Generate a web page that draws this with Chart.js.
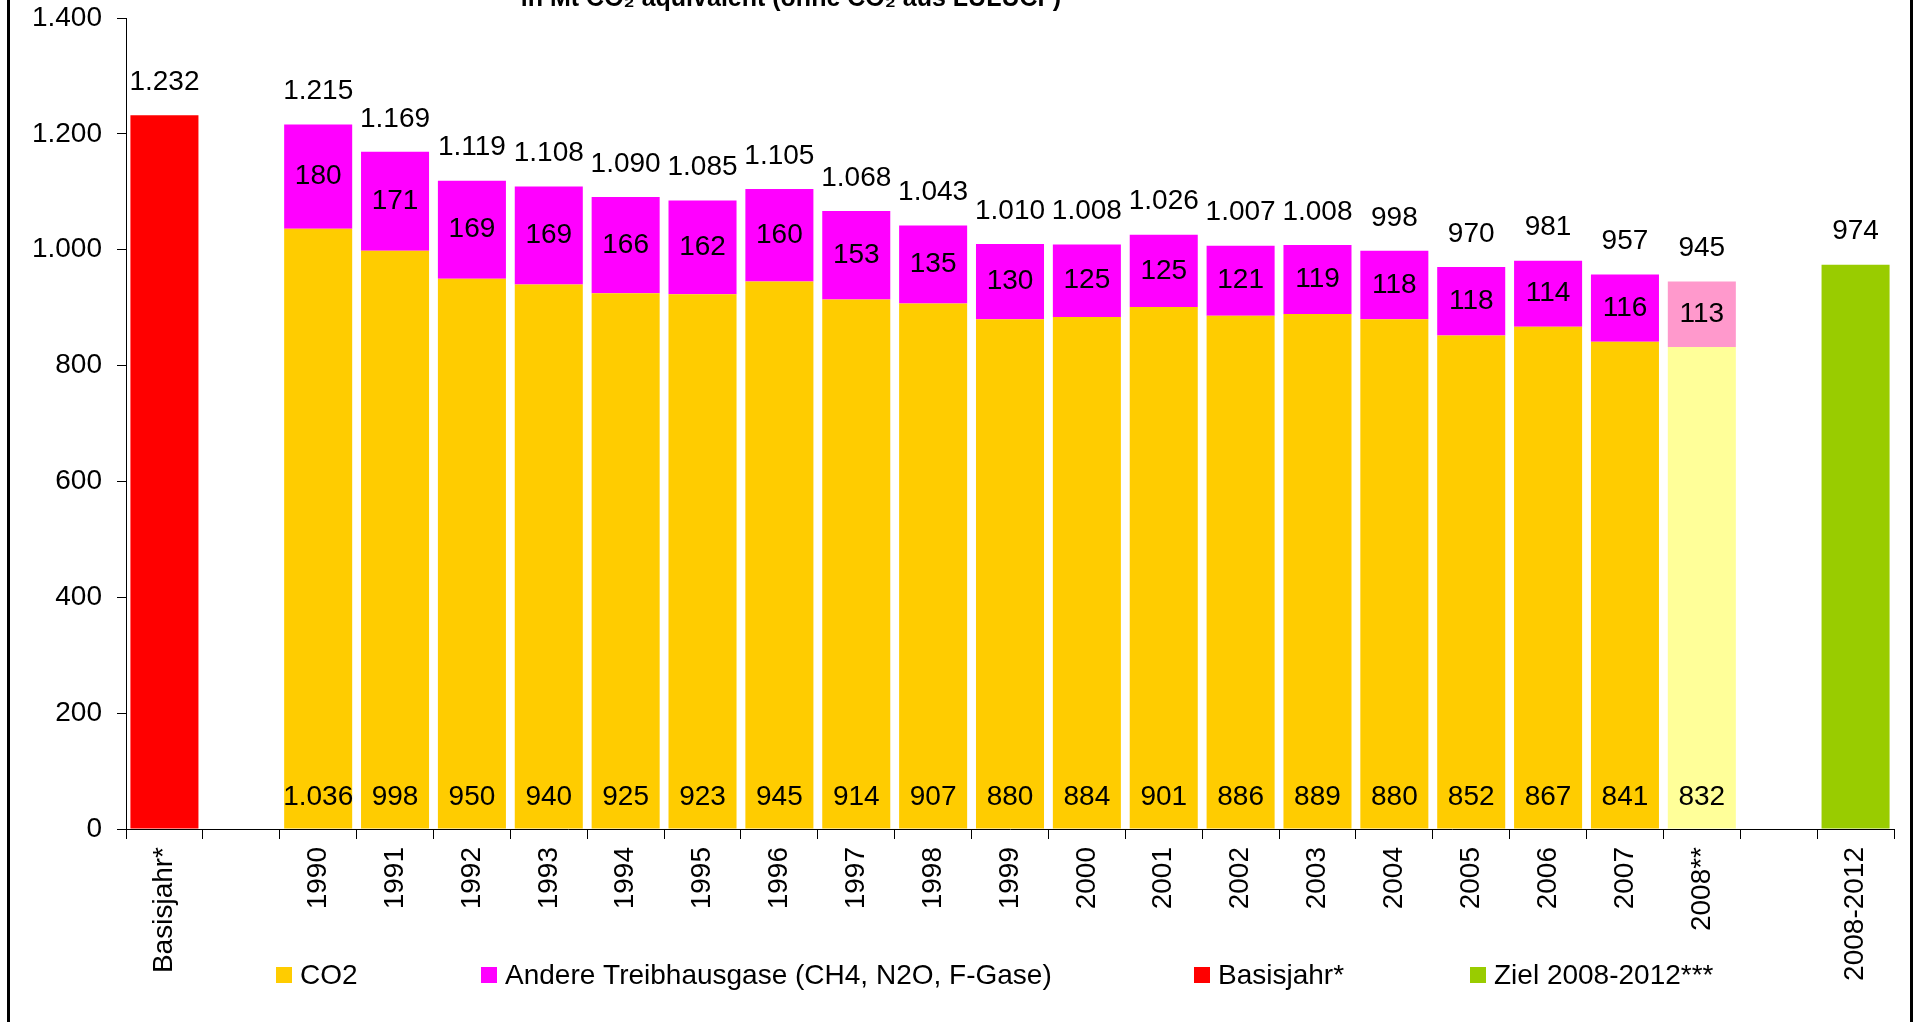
<!DOCTYPE html>
<html>
<head>
<meta charset="utf-8">
<script src="https://cdn.jsdelivr.net/npm/chart.js@4.4.0/dist/chart.umd.min.js"></script>
<style>
  html, body { margin: 0; padding: 0; background: #fff; overflow: hidden; }
  #wrap { position: relative; width: 1921px; height: 1022px; }
  #chart { position: absolute; left: 0; top: 0; }
  #frame { position: absolute; left: 7px; top: -40px; width: 1906px; height: 1200px;
           border: 3px solid #000; box-sizing: border-box; pointer-events: none; }
</style>
</head>
<body>
<div id="wrap">
  <canvas id="chart" width="1921" height="1022"></canvas>
  <div id="frame"></div>
</div>
<script>
// values (Mt CO2 equivalent)
const years = ['1990', '1991', '1992', '1993', '1994', '1995', '1996', '1997', '1998', '1999',
               '2000', '2001', '2002', '2003', '2004', '2005', '2006', '2007', '2008**'];
const co2 = [1036, 998, 950, 940, 925, 923, 945, 914, 907, 880, 884, 901, 886, 889, 880, 852, 867, 841, 832];
const otherGases = [180, 171, 169, 169, 166, 162, 160, 153, 135, 130, 125, 125, 121, 119, 118, 118, 114, 116, 113];
const totals = [1215, 1169, 1119, 1108, 1090, 1085, 1105, 1068, 1043, 1010, 1008, 1026, 1007, 1008, 998, 970, 981, 957, 945];
const baseYear = 'Basisjahr*';
const baseYearValue = 1232;
const target = '2008-2012';
const targetValue = 974;
const yTicks = [0, 200, 400, 600, 800, 1000, 1200, 1400];

const FONT = '"Liberation Sans", Arial, sans-serif';

// german thousands separator
function fmt(v) {
    return String(v).replace(/\B(?=(\d{3})+(?!\d))/g, '.');
}

// one empty slot after the base year and before the target
const labels = [baseYear, '', ...years, '', target];
const pad = arr => [null, null, ...arr, null, null];
const only = (idx, v) => labels.map((l, i) => (i === idx ? v : null));

const co2Colors = labels.map(l => (l === '2008**' ? '#FFFF99' : '#FFCC00'));
const otherColors = labels.map(l => (l === '2008**' ? '#FF99CC' : '#FF00FF'));

// value labels on and above the bars
const valueLabels = {
    id: 'valueLabels',
    afterDatasetsDraw(chart) {
        const ctx = chart.ctx;
        const zero = chart.scales.y.getPixelForValue(0);
        const m0 = chart.getDatasetMeta(0);
        const m1 = chart.getDatasetMeta(1);
        ctx.save();
        ctx.font = '28px ' + FONT;
        ctx.fillStyle = '#000';
        ctx.textAlign = 'center';
        ctx.textBaseline = 'middle';
        years.forEach((y, i) => {
            const k = i + 2;
            const b0 = m0.data[k];
            const b1 = m1.data[k];
            ctx.fillText(fmt(co2[i]), b0.x, zero - 32);
            ctx.fillText(fmt(otherGases[i]), b1.x, (b1.y + b1.base) / 2);
            ctx.fillText(fmt(totals[i]), b1.x, b1.y - 33);
        });
        const bb = chart.getDatasetMeta(2).data[0];
        ctx.fillText(fmt(baseYearValue), bb.x, bb.y - 33);
        const tb = chart.getDatasetMeta(3).data[labels.length - 1];
        ctx.fillText(fmt(targetValue), tb.x, tb.y - 33);
        ctx.restore();
    }
};

// legend row and the cut-off subtitle
const legendX = [276, 481, 1194, 1470];
const extras = {
    id: 'extras',
    afterDraw(chart) {
        const ctx = chart.ctx;
        ctx.save();
        ctx.font = '28px ' + FONT;
        ctx.textBaseline = 'middle';
        ctx.textAlign = 'left';
        chart.data.datasets.forEach((ds, i) => {
            const c = Array.isArray(ds.backgroundColor) ? ds.backgroundColor[2] : ds.backgroundColor;
            ctx.fillStyle = c;
            ctx.fillRect(legendX[i], 967, 16, 16);
            ctx.fillStyle = '#000';
            ctx.fillText(ds.label, legendX[i] + 24, 976);
        });
        ctx.font = 'bold 25px ' + FONT;
        ctx.textAlign = 'center';
        ctx.textBaseline = 'alphabetic';
        ctx.fillText('in Mt CO\u2082 \u00e4quivalent (ohne CO\u2082 aus LULUCF)', 791, 6);
        ctx.restore();
    }
};

const ctx = document.getElementById('chart').getContext('2d');
const chart = new Chart(ctx, {
    type: 'bar',
    data: {
        labels: labels,
        datasets: [
            { label: 'CO2', data: pad(co2), backgroundColor: co2Colors },
            { label: 'Andere Treibhausgase (CH4, N2O, F-Gase)', data: pad(otherGases), backgroundColor: otherColors },
            { label: 'Basisjahr*', data: only(0, baseYearValue), backgroundColor: '#FF0000' },
            { label: 'Ziel 2008-2012***', data: only(labels.length - 1, targetValue), backgroundColor: '#99CC00' }
        ]
    },
    options: {
        responsive: false,
        animation: false,
        devicePixelRatio: 1,
        layout: { padding: { top: 18, right: 27, left: 0, bottom: 0 } },
        datasets: { bar: { categoryPercentage: 1, barPercentage: 0.885 } },
        plugins: {
            legend: { display: false },
            tooltip: { enabled: false }
        },
        scales: {
            x: {
                stacked: true,
                grid: { drawOnChartArea: false, tickLength: 10, color: '#000', offset: true },
                border: { color: '#000' },
                ticks: {
                    autoSkip: false, minRotation: 90, maxRotation: 90,
                    color: '#000', padding: 8, font: { family: FONT, size: 28 }
                },
                afterFit: s => { s.height = 193; s.paddingLeft = 0; s.paddingRight = 0; }
            },
            y: {
                stacked: true,
                min: 0,
                max: 1400,
                afterBuildTicks: s => { s.ticks = yTicks.map(v => ({ value: v })); },
                grid: { drawOnChartArea: false, tickLength: 9, color: '#000' },
                border: { color: '#000' },
                ticks: {
                    color: '#000', padding: 15, font: { family: FONT, size: 28 },
                    callback: v => fmt(v)
                },
                afterFit: s => { s.width = 126; s.paddingTop = 0; s.paddingBottom = 0; }
            }
        }
    },
    plugins: [valueLabels, extras]
});
</script>
</body>
</html>
